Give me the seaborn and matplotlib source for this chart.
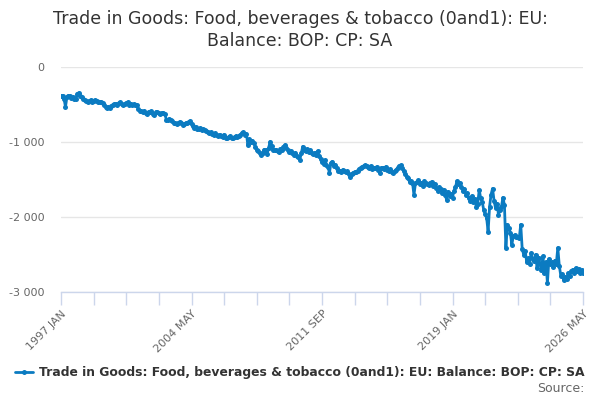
import pandas as pd
import matplotlib
matplotlib.use('Agg')
import matplotlib.pyplot as plt
import seaborn as sns

# Monthly values (GBP million), Jan 1997 - May 2026
y1997 = [-390, -380, -420, -530, -400, -380, -390, -410, -400, -420, -430, -355]
y1998 = [-345, -380, -400, -420, -440, -450, -470, -450, -440, -460, -450, -440]
y1999 = [-450, -470, -460, -470, -480, -500, -530, -540, -535, -545, -520, -500]
y2000 = [-495, -490, -500, -485, -470, -495, -500, -490, -480, -470, -500, -490]
y2001 = [-500, -495, -510, -505, -560, -580, -590, -600, -585, -610, -620, -595]
y2002 = [-600, -590, -620, -640, -600, -605, -615, -630, -610, -615, -625, -700]
y2003 = [-710, -690, -700, -720, -740, -750, -760, -745, -730, -750, -770, -760]
y2004 = [-750, -740, -730, -720, -760, -790, -810, -800, -820, -830, -810, -835]
y2005 = [-830, -845, -850, -860, -880, -870, -890, -900, -880, -910, -920, -900]
y2006 = [-920, -930, -900, -940, -950, -930, -920, -950, -940, -930, -920, -935]
y2007 = [-920, -900, -880, -870, -900, -890, -1040, -960, -1000, -980, -1010, -1060]
y2008 = [-1100, -1120, -1150, -1170, -1140, -1100, -1110, -1160, -1080, -996, -1050, -1100]
y2009 = [-1110, -1100, -1120, -1130, -1090, -1110, -1060, -1040, -1080, -1100, -1130, -1120]
y2010 = [-1150, -1170, -1140, -1180, -1200, -1240, -1150, -1060, -1100, -1120, -1090, -1130]
y2011 = [-1110, -1150, -1160, -1140, -1170, -1120, -1180, -1220, -1260, -1290, -1240, -1300]
y2012 = [-1330, -1410, -1280, -1260, -1320, -1300, -1350, -1380, -1390, -1400, -1370, -1390]
y2013 = [-1400, -1390, -1420, -1460, -1430, -1410, -1400, -1405, -1380, -1360, -1340, -1330]
y2014 = [-1320, -1310, -1315, -1330, -1340, -1320, -1360, -1350, -1340, -1330, -1370, -1410]
y2015 = [-1350, -1340, -1360, -1330, -1370, -1380, -1360, -1400, -1410, -1390, -1370, -1340]
y2016 = [-1320, -1310, -1350, -1380, -1420, -1460, -1480, -1530, -1520, -1540, -1707, -1550]
y2017 = [-1530, -1510, -1560, -1540, -1580, -1520, -1550, -1560, -1570, -1540, -1530, -1580]
y2018 = [-1560, -1610, -1650, -1600, -1620, -1680, -1640, -1700, -1770, -1660, -1720, -1690]
y2019 = [-1740, -1650, -1600, -1520, -1560, -1540, -1600, -1650, -1620, -1700, -1680, -1750]
y2020 = [-1780, -1720, -1800, -1760, -1860, -1820, -1640, -1750, -1800, -1900, -1960, -2010]
y2021 = [-2196, -1860, -1700, -1620, -1780, -1880, -1820, -1970, -1900, -1860, -1740, -1840]
y2022 = [-2410, -2100, -2150, -2210, -2370, -2250, -2240, -2270, -2260, -2280, -2100, -2430]
y2023 = [-2500, -2450, -2600, -2550, -2620, -2480, -2560, -2590, -2500, -2680, -2540, -2620]
y2024 = [-2700, -2520, -2750, -2600, -2880, -2560, -2630, -2600, -2670, -2580, -2620, -2410]
y2025 = [-2650, -2780, -2760, -2840, -2800, -2830, -2750, -2780, -2720, -2700, -2740, -2680]
y2026 = [-2720, -2690, -2740, -2710, -2740]

years = [y1997, y1998, y1999, y2000, y2001, y2002, y2003, y2004, y2005, y2006,
         y2007, y2008, y2009, y2010, y2011, y2012, y2013, y2014, y2015, y2016,
         y2017, y2018, y2019, y2020, y2021, y2022, y2023, y2024, y2025, y2026]
values = [v for yr in years for v in yr]

dates = pd.date_range('1997-01-01', periods=len(values), freq='MS')
df = pd.DataFrame({'month': range(len(values)), 'value': values})

title = 'Trade in Goods: Food, beverages & tobacco (0and1): EU:\nBalance: BOP: CP: SA'
series_name = 'Trade in Goods: Food, beverages & tobacco (0and1): EU: Balance: BOP: CP: SA'
line_color = '#0b7bc1'

sns.set_theme(style='white')
plt.rcParams['font.family'] = ['DejaVu Sans']

fig = plt.figure(figsize=(6, 4), dpi=100)
ax = fig.add_axes([0.1017, 0.27, 0.8700, 0.5625])

sns.lineplot(data=df, x='month', y='value', ax=ax, color=line_color,
             linewidth=2, marker='o', markersize=3.6, markeredgewidth=0,
             label=series_name, legend=False)

ax.set_xlim(0, len(values) - 1)
ax.set_ylim(-3000, 0)

# y axis
yticks = [0, -1000, -2000, -3000]
ax.set_yticks(yticks)
ax.set_yticklabels(['0', '-1 000', '-2 000', '-3 000'], fontsize=8, color='#666666')
ax.yaxis.grid(True, color='#e6e6e6', linewidth=1)
ax.xaxis.grid(False)
ax.tick_params(axis='y', length=0, pad=12)

# x axis: ticks every 22 months, labels every 88
tick_pos = list(range(0, len(values), 22))
ax.set_xticks(tick_pos)
labels = [dates[i].strftime('%Y %b').upper() if i % 88 == 0 else '' for i in tick_pos]
ax.set_xticklabels(labels, rotation=45, ha='right', rotation_mode='anchor',
                   fontsize=8, color='#666666')
ax.tick_params(axis='x', bottom=True, length=9, width=1, color='#ccd6eb',
               direction='out', pad=3)

for side in ['top', 'right', 'left']:
    ax.spines[side].set_visible(False)
ax.spines['bottom'].set_color('#ccd6eb')
ax.spines['bottom'].set_linewidth(1)
ax.set_xlabel('')
ax.set_ylabel('')

fig.text(0.5, 0.975, title, ha='center', va='top', fontsize=12.5, color='#333333',
         linespacing=1.3)

# legend
handles, _ = ax.get_legend_handles_labels()
fig.legend(handles, [series_name], loc='center', bbox_to_anchor=(0.5, 0.068),
           frameon=False, handlelength=1.4, handletextpad=0.5,
           prop={'weight': 'bold', 'size': 8.9})
for t in fig.legends[0].get_texts():
    t.set_color('#333333')

fig.text(0.975, 0.028, 'Source:', ha='right', va='center', fontsize=9, color='#666666')

fig.savefig('out.png', dpi=100)
